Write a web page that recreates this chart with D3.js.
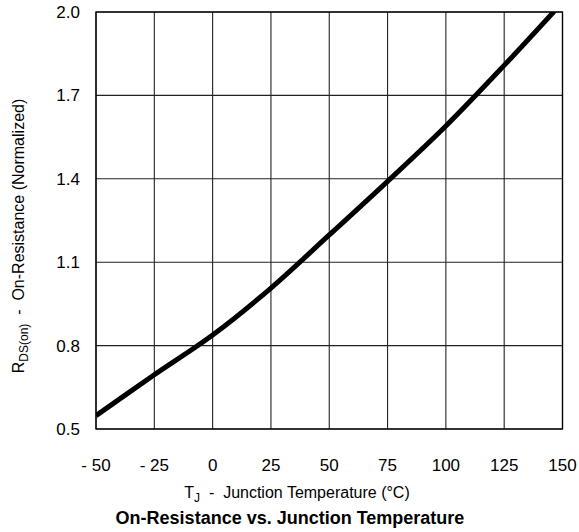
<!DOCTYPE html>
<html><head><meta charset="utf-8">
<script src="https://cdn.jsdelivr.net/npm/d3@7"></script>
<style>body{margin:0;background:#fff}svg text{font-family:"Liberation Sans",Arial,Helvetica,sans-serif;fill:#000}</style>
</head><body>
<svg id="c" width="579" height="532"></svg>
<script>
const xTicks = [-50, -25, 0, 25, 50, 75, 100, 125, 150];
const xTickLabels = ["- 50", "- 25", "0", "25", "50", "75", "100", "125", "150"];
const yTicks = [0.5, 0.8, 1.1, 1.4, 1.7, 2.0];
const yTickLabels = ["0.5", "0.8", "1.1", "1.4", "1.7", "2.0"];
const temps = [-50, -25, 0, 25, 50, 75, 100, 125, 150];
const rdson = [0.548, 0.695, 0.838, 1.007, 1.198, 1.391, 1.590, 1.808, 2.035];

const svg = d3.select("#c");
const L = 96, R = 562.5, T = 12, B = 429;
const x = d3.scaleLinear().domain([-50, 150]).range([L, R]);
const y = d3.scaleLinear().domain([0.5, 2.0]).range([B, T]);

// grid
svg.append("g").selectAll("line").data(xTicks).join("line")
  .attr("x1", d => x(d)).attr("x2", d => x(d)).attr("y1", T).attr("y2", B)
  .attr("stroke", "#222").attr("stroke-width", 1.1);
svg.append("g").selectAll("line").data(yTicks).join("line")
  .attr("x1", L).attr("x2", R).attr("y1", d => y(d)).attr("y2", d => y(d))
  .attr("stroke", "#222").attr("stroke-width", 1.1);
svg.append("rect").attr("x", L).attr("y", T).attr("width", R - L).attr("height", B - T)
  .attr("fill", "none").attr("stroke", "#000").attr("stroke-width", 1.3);

// clip + curve
svg.append("clipPath").attr("id", "clp").append("rect")
  .attr("x", L).attr("y", T).attr("width", R - L).attr("height", B - T);
const line = d3.line().x((d, i) => x(temps[i])).y(d => y(d)).curve(d3.curveCatmullRom.alpha(0.5));
svg.append("path").attr("d", line(rdson)).attr("clip-path", "url(#clp)")
  .attr("fill", "none").attr("stroke", "#000").attr("stroke-width", 5);

// tick labels
svg.append("g").selectAll("text").data(xTicks).join("text")
  .attr("x", d => x(d)).attr("y", 471).attr("text-anchor", "middle")
  .attr("font-size", 17).text((d, i) => xTickLabels[i]);
svg.append("g").selectAll("text").data(yTicks).join("text")
  .attr("x", 80).attr("y", d => y(d) + 6).attr("text-anchor", "end")
  .attr("font-size", 17).text((d, i) => yTickLabels[i]);

// x label
const xl = svg.append("text").attr("x", 297).attr("y", 498).attr("text-anchor", "middle").attr("font-size", 16).attr("xml:space", "preserve");
xl.append("tspan").text("T");
xl.append("tspan").attr("font-size", 12).attr("dy", 4).text("J");
xl.append("tspan").attr("dy", -4).text("  -  Junction Temperature (°C)");
// title
svg.append("text").attr("x", 290).attr("y", 524).attr("text-anchor", "middle")
  .attr("font-size", 18).attr("font-weight", "bold").text("On-Resistance vs. Junction Temperature");
// y label
const yl = svg.append("text").attr("transform", "translate(24,236) rotate(-90)")
  .attr("text-anchor", "middle").attr("font-size", 16).attr("xml:space", "preserve");
yl.append("tspan").text("R");
yl.append("tspan").attr("font-size", 12).attr("dy", 4).text("DS(on)");
yl.append("tspan").attr("dy", -4).text("  -  On-Resistance (Normalized)");
</script>
</body></html>
